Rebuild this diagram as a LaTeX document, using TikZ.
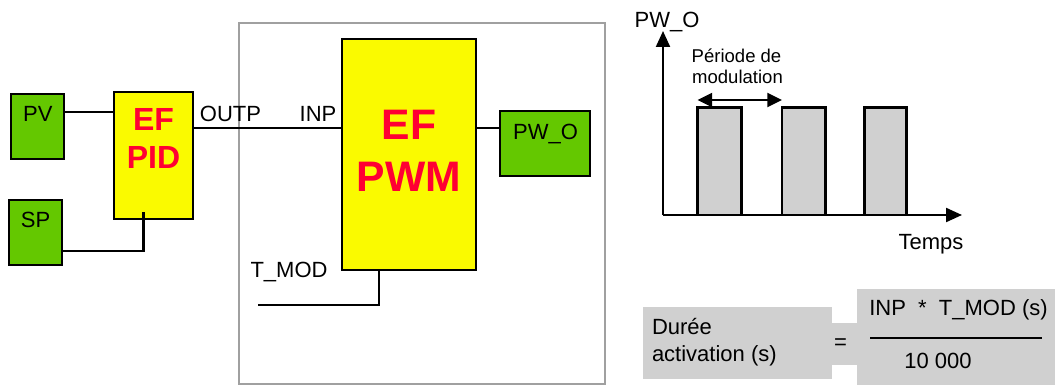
\documentclass[tikz,border=0pt]{standalone}
\usepackage{fontspec}
\setmainfont{Liberation Sans}
\usetikzlibrary{arrows.meta,fit}
\definecolor{boxgreen}{RGB}{100,200,0}
\definecolor{boxyellow}{RGB}{250,250,0}
\definecolor{efred}{RGB}{255,0,51}
\definecolor{bargray}{RGB}{208,208,208}
\definecolor{framegray}{RGB}{160,160,160}
\begin{document}
\begin{tikzpicture}[x=0.75pt,y=-0.75pt,
  lbl/.style={font=\fontsize{16.5}{19}\selectfont, inner sep=0pt, outer sep=0pt},
  small/.style={font=\fontsize{13.9}{16}\selectfont, inner sep=0pt, outer sep=0pt},
  gbox/.style={draw=black, line width=2.2pt, fill=boxgreen, inner sep=0pt, outer sep=0pt},
  ybox/.style={draw=black, line width=2.2pt, fill=boxyellow, inner sep=0pt, outer sep=0pt},
  framebox/.style={draw=framegray, line width=1.6pt, inner sep=0pt, outer sep=0pt},
  pidtxt/.style={text=efred, font=\bfseries\fontsize{24}{26}\selectfont, inner sep=0pt},
  pwmtxt/.style={text=efred, font=\bfseries\fontsize{32}{34}\selectfont, inner sep=0pt},
  wire/.style={draw=black, line width=2pt},
  axis/.style={draw=black, line width=1.6pt},
  tip/.style={-{Triangle[width=10.5pt,length=12pt]}},
  bar/.style={draw=black, line width=1.6pt, fill=bargray, inner sep=0pt, outer sep=0pt},
  graypatch/.style={fill=bargray, inner sep=0pt, outer sep=0pt}
]
\useasboundingbox (0,0) rectangle (1055,385);

% frame around PWM block
\node[framebox, fit={(239,23) (605,384)}] (frame) {};

% left blocks
\node[gbox, fit={(11,94) (64,159)}] (pv) {};
\node[lbl, anchor=base] (pvt) at (37.8,121.7) {PV};
\node[gbox, fit={(9,200) (62,265)}] (sp) {};
\node[lbl, anchor=base] (spt) at (35.5,227.5) {SP};
\node[ybox, fit={(114,92) (193,219)}] (pid) {};
\node[pidtxt, anchor=base] (pidef) at (153.5,130) {EF};
\node[pidtxt, anchor=base] (pidname) at (153.5,168.3) {PID};

% PWM block
\node[ybox, fit={(342,39) (476,270)}] (pwm) {};
\node[pwmtxt, anchor=base] (pwmef) at (409,139.3) {EF};
\node[pwmtxt, anchor=base] (pwmname) at (409,191.7) {PWM};
\node[gbox, fit={(500,111) (590,176)}] (pwo) {};
\node[lbl, anchor=base] (pwot) at (545.5,139.3) {PW\_O};

% connectors
\draw[wire] (pv.east |- 0,112) -- (pid.west |- 0,112);
\draw[wire] (pid.east |- 0,128) -- (pwm.west |- 0,128);
\draw[wire] (pwm.east |- 0,128) -- (pwo.west |- 0,128);
\coordinate (spin) at (143.5,212);
\draw[wire] (sp.east |- 0,251) -| (spin);
\coordinate (tmodin) at (258,305);
\draw[wire] (tmodin) -| (pwm.south -| 379,0);

% pin labels
\node[lbl, anchor=base] (outp) at (230.5,121.7) {OUTP};
\node[lbl, anchor=base] (inp) at (318,121.7) {INP};
\node[lbl, anchor=base] (tmod) at (289,277) {T\_MOD};

% chart
\node[bar, fit={(697.5,107.5) (741.5,215)}] (b1) {};
\node[bar, fit={(782,107.5) (825.5,215)}] (b2) {};
\node[bar, fit={(864.5,107.5) (906.5,215)}] (b3) {};
\coordinate (o) at (663,215);
\coordinate (ytop) at (663,31);
\coordinate (xend) at (962,215);
\draw[axis, tip] (o) -- (ytop);
\draw[axis, tip] (o) -- (xend);
\draw[axis, {Triangle[width=10.5pt,length=11pt]}-{Triangle[width=10.5pt,length=11pt]}] (b1.north west |- 0,100) -- (b2.north west |- 0,100);
\node[lbl, anchor=base] (pwol) at (667,27.3) {PW\_O};
\node[small, anchor=base] (per1) at (736.5,62.7) {Période de};
\node[small, anchor=base] (per2) at (737.5,83.3) {modulation};
\node[lbl, anchor=base] (temps) at (931,249.3) {Temps};

% formula
\node[graypatch, fit={(643,307) (832,379)}] (fl) {};
\node[graypatch, fit={(831,323) (858,365)}] (fm) {};
\node[graypatch, fit={(857,289) (1055,385)}] (fr) {};
\node[lbl, anchor=base west] (duree) at (652,334.3) {Durée};
\node[lbl, anchor=base west] (activ) at (652,361.7) {activation (s)};
\node[lbl] (eq) at (840.5,344) {=};
\node[lbl, anchor=base] (num) at (958.5,315) {INP\ \ *\ \ T\_MOD (s)};
\coordinate (fracl) at (870,338);
\coordinate (fracr) at (1042,338);
\draw[line width=2pt] (fracl) -- (fracr);
\node[lbl, anchor=base] (den) at (938,368.3) {10 000};
\end{tikzpicture}
\end{document}
